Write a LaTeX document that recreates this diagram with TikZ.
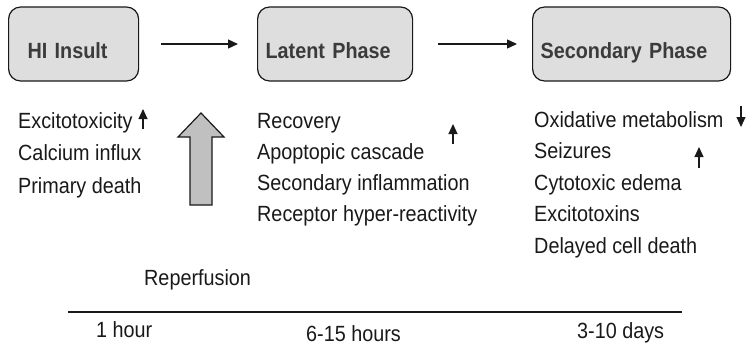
\documentclass[tikz,border=0pt]{standalone}
\usepackage{fontspec}
\setmainfont{Liberation Sans}[FakeStretch=0.9]
\usetikzlibrary{arrows.meta,positioning}
\definecolor{stone}{RGB}{222,222,222}
\definecolor{slate}{RGB}{192,192,192}
\definecolor{ink}{RGB}{25,25,25}
\tikzset{
  >={Triangle[width=9bp,length=10bp]},
  phase/.style={draw=ink,fill=stone,rounded corners=12bp,line width=1.2bp,anchor=west,
    minimum height=74bp,align=left,text height=28bp,text depth=0pt,
    font=\fontsize{22bp}{26bp}\selectfont\bfseries,text=ink!85},
  item/.style={anchor=base west,inner sep=0pt,font=\fontsize{22bp}{26bp}\selectfont,text=ink},
  flow/.style={->,line width=1.3bp,draw=ink},
  trend/.style={->,line width=1.1bp,draw=ink},
}

\begin{document}
\begin{tikzpicture}[x=1bp,y=-1bp]
  \useasboundingbox (0,0) rectangle (749,345);
  % the three phases
  \node[phase,inner xsep=19bp,text width=92bp] (hi) at (8,44) {HI Insult};
  \node[phase,inner xsep=8bp,text width=139bp] (lat) at (257,44) {Latent Phase};
  \node[phase,inner xsep=8bp,text width=182bp] (sec) at (532,44) {Secondary Phase};
  \draw[flow,shorten <=22bp,shorten >=19bp] (hi) -- (lat);
  \draw[flow,shorten <=25bp,shorten >=15bp] (lat) -- (sec);
  % what happens in each phase
  \foreach \i/\t/\y in {1/Excitotoxicity/128,2/Calcium influx/160.5,3/Primary death/193}
    \node[item] (a\i) at (18,\y) {\t};
  \foreach \i/\t/\y in {1/Recovery/128,2/Apoptopic cascade/159,3/Secondary inflammation/190,4/Receptor hyper-reactivity/221}
    \node[item] (b\i) at (257,\y) {\t};
  \foreach \i/\t/\y in {1/Oxidative metabolism/127,2/Seizures/158.5,3/Cytotoxic edema/190,4/Excitotoxins/221.5,5/Delayed cell death/253}
    \node[item] (c\i) at (534,\y) {\t};
  % up / down marks
  \coordinate (u1) at (143,129);
  \coordinate (u1t) at (143,109);
  \coordinate (u2) at (453,144);
  \coordinate (u2t) at (453,124);
  \coordinate (u3) at (699,168);
  \coordinate (u3t) at (699,147);
  \coordinate (d1) at (741,106);
  \coordinate (d1t) at (741,127);
  \draw[trend] (u1) -- (u1t);
  \draw[trend] (u2) -- (u2t);
  \draw[trend] (u3) -- (u3t);
  \draw[trend] (d1) -- (d1t);
  % reperfusion
  \filldraw[fill=slate,draw=ink,line width=1.2bp]
    (190,205) -- (190,137) -- (178,137) -- (201,113) -- (224,137) -- (212,137) -- (212,205) -- cycle;
  \node[item] (rep) at (144,285) {Reperfusion};
  % time line
  \coordinate (t0) at (68,312);
  \coordinate (t1) at (682,312);
  \draw[ink,line width=2bp] (t0) -- (t1);
  \node[item] (h1) at (96,337) {1 hour};
  \node[item] (h2) at (306,341) {6-15 hours};
  \node[item] (h3) at (577,338) {3-10 days};
\end{tikzpicture}
\end{document}
